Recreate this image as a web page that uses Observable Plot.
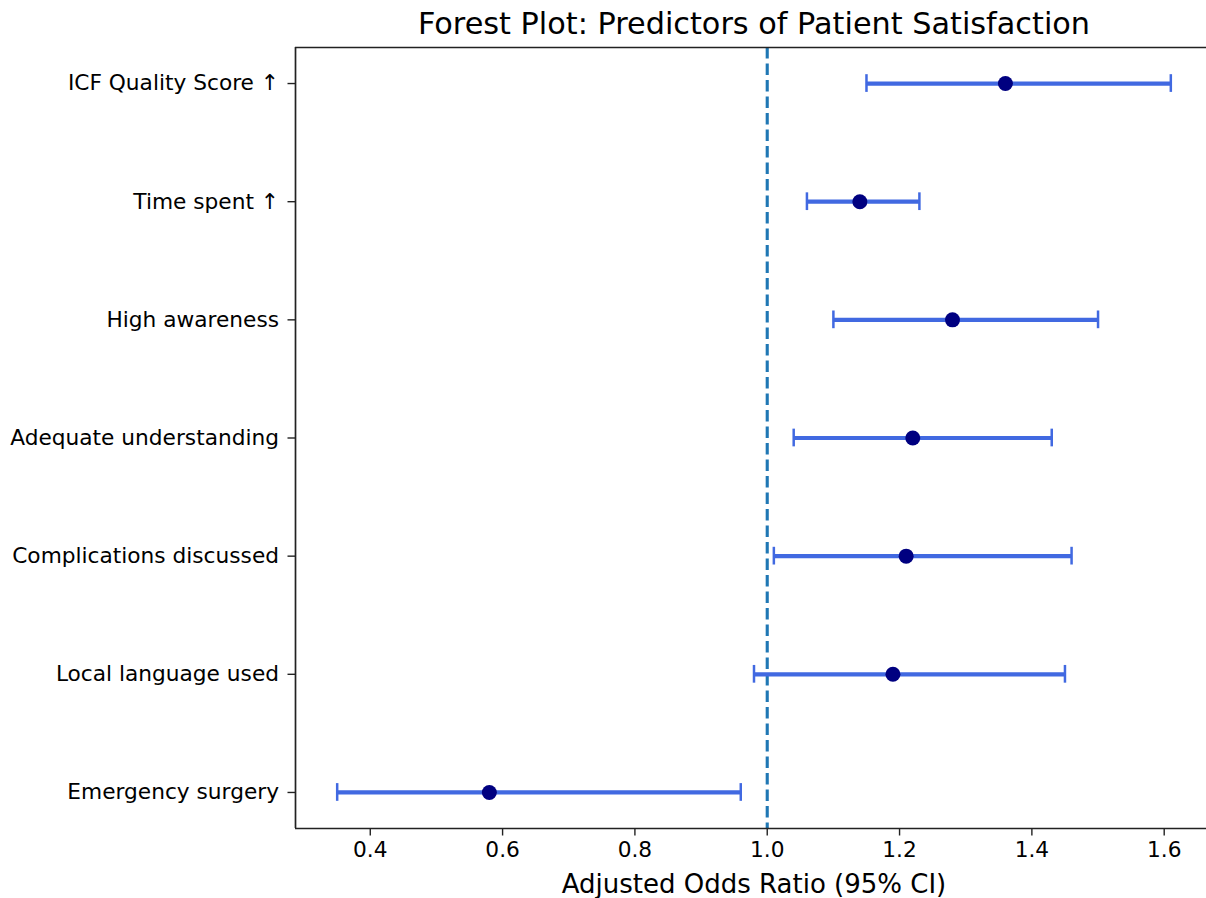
<!DOCTYPE html>
<html>
<head>
<meta charset="utf-8">
<script src="https://cdn.jsdelivr.net/npm/d3@7"></script>
<script src="https://cdn.jsdelivr.net/npm/@observablehq/plot@0.6"></script>
<style>
  html, body { margin: 0; padding: 0; background: #fff; overflow: hidden; }
  #chart svg { overflow: hidden; display: block; font-family: "DejaVu Sans" !important; }
  #chart svg text { font-family: "DejaVu Sans" !important; }
</style>
</head>
<body>
<div id="chart"></div>
<script>
const factors = ["ICF Quality Score ↑", "Time spent ↑", "High awareness", "Adequate understanding", "Complications discussed", "Local language used", "Emergency surgery"];
const oddsRatio = [1.36, 1.14, 1.28, 1.22, 1.21, 1.19, 0.58];
const ciLow = [1.15, 1.06, 1.10, 1.04, 1.01, 0.98, 0.35];
const ciHigh = [1.61, 1.23, 1.50, 1.43, 1.46, 1.45, 0.96];
const xTicks = [0.4, 0.6, 0.8, 1.0, 1.2, 1.4, 1.6];
const referenceOR = 1.0;
const titleText = "Forest Plot: Predictors of Patient Satisfaction";
const xLabelText = "Adjusted Odds Ratio (95% CI)";

const n = factors.length;
const rows = factors.map((f, i) => ({factor: f, pos: n - 1 - i, or: oddsRatio[i], lo: ciLow[i], hi: ciHigh[i]}));
const capHalf = 0.075;
const yDom = [-0.305, n - 1 + 0.305];
const xDom = [0.287, 1.673];
const font = "DejaVu Sans";

const chart = Plot.plot({
  width: 1206,
  height: 898,
  marginTop: 47,
  marginBottom: 70,
  marginLeft: 295,
  marginRight: -6,
  style: {fontFamily: font, fontSize: "21.7px", color: "#000", background: "#fff"},
  x: {domain: xDom, ticks: xTicks, label: null},
  y: {domain: yDom, ticks: rows.map(d => d.pos), label: null},
  marks: [
    Plot.axisX({ticks: xTicks, tickFormat: d => d.toFixed(1), tickSize: 7.5, tickPadding: 6, stroke: "#222", strokeWidth: 1.4, fontSize: 21.7, label: null}),
    Plot.axisY({ticks: rows.map(d => d.pos), tickFormat: p => factors[n - 1 - p], tickSize: 7.5, tickPadding: 9, stroke: "#222", strokeWidth: 1.4, fontSize: 21.7, label: null}),
    Plot.ruleX([referenceOR], {stroke: "#1f77b4", strokeWidth: 3.1, strokeDasharray: "11.5,5"}),
    Plot.ruleY(rows, {y: "pos", x1: "lo", x2: "hi", stroke: "#4169e1", strokeWidth: 4.2}),
    Plot.ruleX(rows, {x: "lo", y1: d => d.pos - capHalf, y2: d => d.pos + capHalf, stroke: "#4169e1", strokeWidth: 2.5}),
    Plot.ruleX(rows, {x: "hi", y1: d => d.pos - capHalf, y2: d => d.pos + capHalf, stroke: "#4169e1", strokeWidth: 2.5}),
    Plot.dot(rows, {x: "or", y: "pos", r: 7.5, fill: "#000080", stroke: "none"}),
    Plot.ruleX([xDom[0]], {stroke: "#222", strokeWidth: 1.7}),
    Plot.ruleY([yDom[0], yDom[1]], {stroke: "#222", strokeWidth: 1.7}),
    Plot.text([titleText], {frameAnchor: "top", dy: -23, lineAnchor: "middle", fontSize: 30.3, fill: "#000", text: d => d}),
    Plot.text([xLabelText], {frameAnchor: "bottom", dy: 56, lineAnchor: "middle", fontSize: 26, fill: "#000", text: d => d})
  ]
});
document.getElementById("chart").appendChild(chart);
</script>
</body>
</html>
